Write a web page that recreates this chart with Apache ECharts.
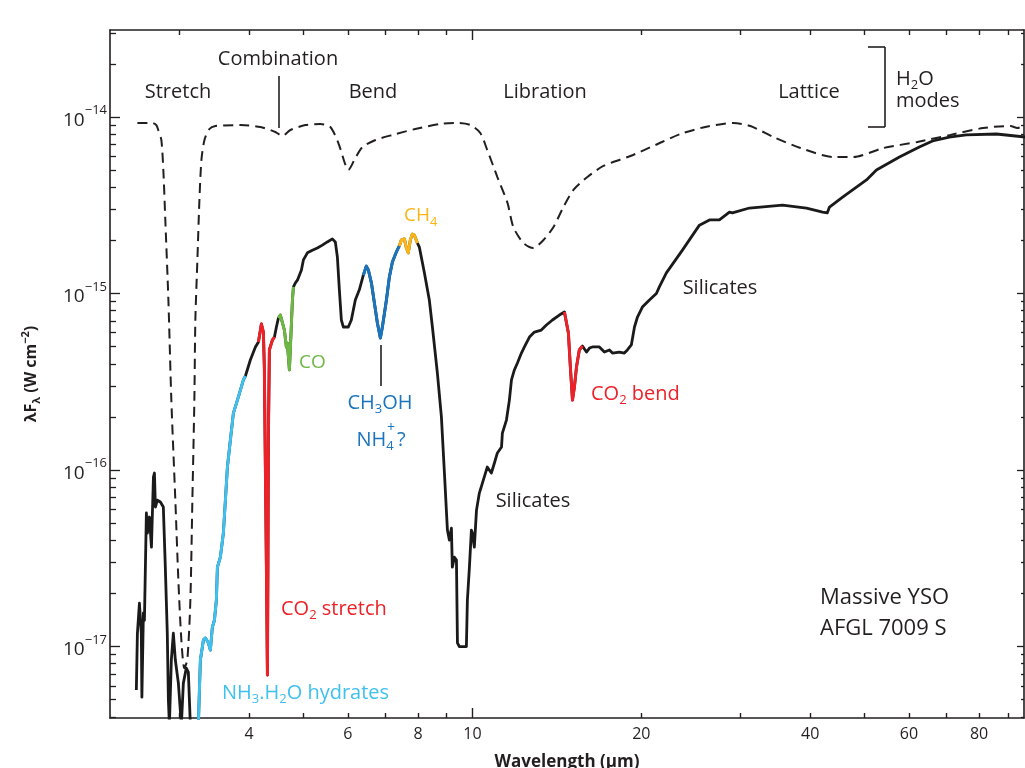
<!DOCTYPE html>
<html>
<head>
<meta charset="utf-8">
<title>Massive YSO AFGL 7009 S</title>
<script src="https://cdn.jsdelivr.net/npm/echarts@6/dist/echarts.min.js"></script>
<style>
  html, body { margin: 0; padding: 0; background: #fff; }
  #chart { width: 1025px; height: 768px; }
</style>
</head>
<body>
<div id="chart"></div>
<script>
  // H2O ice model (dashed), wavelength in um, lambda F_lambda in W cm-2
  let iceWave = [2.529, 2.689, 2.733, 2.756, 2.790, 2.813, 2.836, 2.872, 2.907, 2.955, 2.992, 3.029,
    3.066, 3.104, 3.143, 3.169, 3.195, 3.208, 3.235, 3.262, 3.289, 3.330, 3.398, 3.483, 3.859,
    4.19, 4.455, 4.585, 4.739, 5.04, 5.357, 5.582, 5.77, 5.94, 6.01, 6.185, 6.37, 6.72, 7.20,
    7.91, 8.77, 9.44, 9.92, 10.33, 10.63, 11.08, 11.55, 11.83, 12.33, 12.84, 13.39, 13.95,
    14.53, 15.14, 16.03, 17.12, 19.12, 21.20, 23.49, 26.02, 29.19, 31.30, 34.4, 38.43, 44.0,
    47.8, 54.0, 62.1, 71.1, 81.4, 91.0, 93.6, 96.8]
  let iceFlux = [9.25e-15, 9.25e-15, 9.0e-15, 8.4e-15, 7.41e-15, 5.01e-15, 2.61e-15, 9.19e-16,
    2.49e-16, 6.76e-17, 2.38e-17, 1.09e-17, 7.55e-18, 8.4e-18, 1.83e-17, 6.76e-17, 2.49e-16,
    7.08e-16, 1.55e-15, 3.39e-15, 5.71e-15, 7.41e-15, 8.55e-15, 8.89e-15, 9.0e-15, 8.78e-15,
    8.22e-15, 7.80e-15, 8.44e-15, 9.0e-15, 9.13e-15, 8.78e-15, 7.12e-15, 5.35e-15, 5.01e-15,
    5.86e-15, 6.76e-15, 7.41e-15, 7.91e-15, 8.55e-15, 9.13e-15, 9.25e-15, 9.0e-15, 8.12e-15,
    6.50e-15, 4.57e-15, 3.26e-15, 2.38e-15, 1.93e-15, 1.81e-15, 2.01e-15, 2.38e-15, 3.09e-15,
    3.86e-15, 4.57e-15, 5.28e-15, 6.01e-15, 6.94e-15, 8.01e-15, 8.78e-15, 9.25e-15, 8.89e-15,
    7.70e-15, 6.67e-15, 5.93e-15, 5.93e-15, 6.67e-15, 7.22e-15, 7.91e-15, 8.66e-15, 8.89e-15,
    8.66e-15, 9.0e-15]

  // observed spectrum of AFGL 7009 S
  let specWave = [2.518, 2.529, 2.550, 2.570, 2.576, 2.592, 2.603, 2.624, 2.635, 2.657, 2.679,
    2.701, 2.712, 2.723, 2.745, 2.779, 2.813, 2.836, 2.859, 2.872, 2.884, 2.907, 2.931, 2.955,
    2.992, 3.029, 3.054, 3.091, 3.117, 3.143,
    3.248, 3.262, 3.275, 3.316, 3.343, 3.384, 3.412, 3.44, 3.469, 3.497, 3.512, 3.555, 3.599,
    3.629, 3.659, 3.704, 3.75, 3.827, 3.907, 3.94,
    4.02, 4.105, 4.156, 4.207, 4.241, 4.258, 4.276, 4.294, 4.312, 4.321, 4.33, 4.347, 4.401,
    4.438, 4.474, 4.511, 4.548, 4.585, 4.623, 4.661, 4.68, 4.719, 4.739, 4.778, 4.798,
    4.837, 4.877, 4.917, 4.958, 4.998, 5.081, 5.186, 5.293, 5.403, 5.514, 5.629, 5.698, 5.746,
    5.793, 5.841, 5.889, 6.01, 6.085, 6.185, 6.288, 6.392,
    6.47, 6.525, 6.607, 6.689, 6.771, 6.855, 6.912, 7.027, 7.113, 7.202, 7.32, 7.41,
    7.471, 7.564, 7.627, 7.688, 7.752, 7.816, 7.882, 7.98,
    8.045, 8.212, 8.38, 8.487, 8.662, 8.806, 8.916, 9.026, 9.1, 9.175, 9.21, 9.29, 9.367,
    9.405, 9.48, 9.757, 9.797, 9.879, 9.96, 10.0, 10.08, 10.17, 10.29, 10.42, 10.63, 10.81,
    10.95, 11.08, 11.27, 11.31, 11.5, 11.64, 11.74, 11.88, 12.03, 12.23, 12.38, 12.64, 12.9,
    13.27, 13.55, 13.89, 14.29, 14.59,
    14.71, 14.83, 14.95, 15.08, 15.2, 15.33, 15.51, 15.71,
    15.97, 16.17, 16.37, 16.84, 17.19, 17.55, 17.77, 18.28, 18.66, 18.89, 19.2, 19.45, 19.69,
    20.09, 20.68, 21.28, 21.54, 22.17, 23.68, 25.39, 26.46, 27.56, 28.72, 29.07, 31.17, 35.7,
    39.4, 42.1, 42.9, 43.3, 45.7, 50.4, 52.5, 57.7, 62.6, 66.1, 70.8, 75.9, 85.9, 96.8]
  let specFlux = [5.67e-18, 1.19e-17, 1.76e-17, 1.19e-17, 5.17e-18, 1.55e-17, 1.41e-17, 5.71e-17,
    4.40e-17, 5.42e-17, 3.66e-17, 9.13e-17, 9.62e-17, 6.17e-17, 6.76e-17, 6.59e-17, 6.17e-17,
    2.82e-17, 1.19e-17, 4.97e-18, 3.6e-18, 8.39e-18, 1.19e-17, 8.39e-18, 6.21e-18, 3.6e-18,
    6.21e-18, 7.55e-18, 7.17e-18, 3.6e-18,
    3.6e-18, 5.67e-18, 8.39e-18, 1.09e-17, 1.12e-17, 1.05e-17, 9.55e-18, 1.29e-17, 1.41e-17,
    1.83e-17, 2.82e-17, 3.21e-17, 4.40e-17, 6.76e-17, 1.04e-16, 1.48e-16, 2.10e-16, 2.59e-16,
    3.24e-16, 3.41e-16,
    4.20e-16, 4.98e-16, 5.31e-16, 6.72e-16, 6.05e-16, 3.83e-16, 1.04e-16, 2.82e-17, 6.9e-18,
    2.82e-17, 1.62e-16, 4.79e-16, 5.45e-16, 5.67e-16, 6.46e-16, 7.26e-16, 7.55e-16, 7.36e-16,
    6.21e-16, 4.98e-16, 5.24e-16, 3.69e-16, 4.98e-16, 9.19e-16, 1.09e-15,
    1.15e-15, 1.19e-15, 1.18e-15, 1.36e-15, 1.55e-15, 1.70e-15, 1.76e-15, 1.81e-15, 1.88e-15,
    1.96e-15, 2.04e-15, 1.96e-15, 1.61e-15, 1.05e-15, 7.08e-16, 6.46e-16, 6.46e-16, 7.08e-16,
    9.19e-16, 1.05e-15, 1.27e-15,
    1.43e-15, 1.36e-15, 1.15e-15, 8.84e-16, 6.81e-16, 5.60e-16, 6.46e-16, 9.19e-16, 1.24e-15,
    1.51e-15, 1.72e-15, 1.86e-15,
    2.01e-15, 2.04e-15, 1.81e-15, 1.70e-15, 2.01e-15, 2.17e-15, 2.14e-15, 1.93e-15,
    1.83e-15, 1.31e-15, 9.19e-16, 6.46e-16, 3.54e-16, 2.0e-16, 9.62e-17, 4.57e-17, 4.01e-17,
    4.69e-17, 2.82e-17, 3.21e-17, 3.09e-17, 1.05e-17, 1.0e-17, 1.0e-17, 1.83e-17, 2.82e-17,
    4.57e-17, 4.40e-17, 3.66e-17, 5.93e-17, 7.41e-17, 8.44e-17, 1.04e-16, 9.62e-17, 1.10e-16,
    1.25e-16, 1.35e-16, 1.62e-16, 1.92e-16, 2.49e-16, 3.24e-16, 3.69e-16, 4.04e-16, 4.60e-16,
    4.98e-16, 5.67e-16, 6.05e-16, 6.21e-16, 6.63e-16, 7.08e-16, 7.55e-16, 7.86e-16,
    7.86e-16, 5.97e-16, 3.83e-16, 2.49e-16, 2.95e-16, 3.83e-16, 4.79e-16, 5.04e-16,
    4.66e-16, 4.91e-16, 4.98e-16, 4.98e-16, 4.66e-16, 4.79e-16, 4.60e-16, 4.66e-16, 4.60e-16,
    4.79e-16, 5.11e-16, 6.46e-16, 7.36e-16, 8.38e-16, 9.19e-16, 1.0e-15, 1.09e-15, 1.31e-15,
    1.76e-15, 2.44e-15, 2.61e-15, 2.61e-15, 2.89e-15, 2.86e-15, 3.05e-15, 3.17e-15, 3.05e-15,
    2.89e-15, 2.86e-15, 3.09e-15, 3.52e-15, 4.40e-15, 5.01e-15, 5.93e-15, 6.76e-15, 7.31e-15,
    7.70e-15, 7.91e-15, 8.01e-15, 7.70e-15]

  // absorption features drawn in colour (wavelength ranges, um)
  let bandNames = ['NH3.H2O', 'CO2 stretch', 'CO', 'CH3OH', 'CH4', 'CO2 bend']
  let bandFrom = [3.248, 4.156, 4.511, 6.392, 7.41, 14.59]
  let bandTo = [3.94, 4.438, 4.798, 7.41, 7.98, 15.71]

  // axis ticks
  let xTicks = [3, 4, 5, 6, 7, 8, 9, 20, 30, 40, 50, 60, 70, 80, 90]
  let xDecadeTicks = [10]
  let xLabels = [4, 6, 8, 10, 20, 40, 60, 80]
  let yDecades = [1e-17, 1e-16, 1e-15, 1e-14]
  let yMinor = [4e-18, 5e-18, 6e-18, 7e-18, 8e-18, 9e-18,
    2e-17, 3e-17, 4e-17, 5e-17, 6e-17, 7e-17, 8e-17, 9e-17,
    2e-16, 3e-16, 4e-16, 5e-16, 6e-16, 7e-16, 8e-16, 9e-16,
    2e-15, 3e-15, 4e-15, 5e-15, 6e-15, 7e-15, 8e-15, 9e-15,
    2e-14, 3e-14]

  const FONT = '"Open Sans", "Noto Sans", sans-serif'
  const INK = '#231f20'
  const bandColors = {
    'NH3.H2O': '#3fc0ee',
    'CO2 stretch': '#ee2128',
    'CO': '#6db843',
    'CH3OH': '#1b75bc',
    'CH4': '#fbb516',
    'CO2 bend': '#ee2128'
  }

  let pairs = (xs, ys) => xs.map((x, i) => [x, ys[i]])
  let spectrum = pairs(specWave, specFlux)

  function xAxisOf(position, ticks, len, withLine, withLabels) {
    return {
      type: 'log',
      position: position,
      min: 2.26,
      max: 96.2,
      axisLine: { show: withLine, onZero: false, lineStyle: { color: INK, width: 1.6 } },
      axisTick: { show: true, inside: true, length: len, customValues: ticks, lineStyle: { color: INK, width: 1.4 } },
      axisLabel: withLabels ? {
        show: true, customValues: xLabels, margin: 8,
        color: INK, fontFamily: FONT, fontSize: 16
      } : { show: false },
      splitLine: { show: false },
      minorTick: { show: false },
      name: withLabels ? 'Wavelength (μm)' : '',
      nameLocation: 'middle',
      nameGap: 36,
      nameTextStyle: { color: INK, fontFamily: FONT, fontSize: 17, fontWeight: 'bold' }
    }
  }

  function yAxisOf(position, ticks, len, withLine, withLabels) {
    return {
      type: 'log',
      position: position,
      min: 3.94e-18,
      max: 3.11e-14,
      axisLine: { show: withLine, onZero: false, lineStyle: { color: INK, width: 1.6 } },
      axisTick: { show: true, inside: true, length: len, customValues: ticks, lineStyle: { color: INK, width: 1.3 } },
      axisLabel: withLabels ? {
        show: true, customValues: yDecades, margin: 3,
        color: INK, fontFamily: FONT, fontSize: 19,
        formatter: v => '{b|10}{s|−' + Math.round(-Math.log10(v)) + '}',
        rich: {
          b: { color: INK, fontFamily: FONT, fontSize: 19, lineHeight: 26, verticalAlign: 'bottom' },
          s: { color: INK, fontFamily: FONT, fontSize: 13, lineHeight: 14, verticalAlign: 'top' }
        }
      } : { show: false },
      splitLine: { show: false },
      minorTick: { show: false },
      name: withLabels ? '{b|λF}{bs|λ}{b| (W cm}{bp|−2}{b|)}' : '',
      nameLocation: 'middle',
      nameRotate: 90,
      nameGap: 68,
      nameTextStyle: {
        color: INK, fontFamily: FONT, fontSize: 16, fontWeight: 'bold',
        rich: {
          b: { color: INK, fontFamily: FONT, fontSize: 16, fontWeight: 'bold', lineHeight: 22, verticalAlign: 'middle' },
          bs: { color: INK, fontFamily: FONT, fontSize: 11, fontWeight: 'bold', lineHeight: 22, verticalAlign: 'bottom', padding: [6, 0, 0, 0] },
          bp: { color: INK, fontFamily: FONT, fontSize: 11, fontWeight: 'bold', lineHeight: 22, verticalAlign: 'top', padding: [0, 0, 6, 0] }
        }
      }
    }
  }

  let annoRich = {
    sub: { fontFamily: FONT, fontSize: 13, lineHeight: 26, verticalAlign: 'bottom', padding: [8, 0, 0, 0] },
    sup: { fontFamily: FONT, fontSize: 13, lineHeight: 26, verticalAlign: 'top', padding: [0, 0, 8, 0] }
  }
  function label(text, x, y, color, size, align) {
    let rich = {}
    Object.keys(annoRich).forEach(k => {
      rich[k] = Object.assign({}, annoRich[k], { fill: color })
    })
    return {
      type: 'text', x: x, y: y, silent: true, z: 100,
      style: {
        text: text, fill: color, font: (size || 20) + 'px ' + FONT,
        align: align || 'center', verticalAlign: 'middle', rich: rich
      }
    }
  }
  function rule(x1, y1, x2, y2) {
    return {
      type: 'line', silent: true, z: 100,
      shape: { x1: x1, y1: y1, x2: x2, y2: y2 },
      style: { stroke: INK, lineWidth: 1.6 }
    }
  }

  let chart = echarts.init(document.getElementById('chart'))
  let option = {
    animation: false,
    backgroundColor: '#fff',
    grid: { left: 110, right: 1, top: 30, bottom: 50, containLabel: false, outerBoundsMode: 'none' },
    xAxis: [
      xAxisOf('bottom', xTicks, 5, true, true),
      xAxisOf('bottom', xDecadeTicks, 10, false, false),
      xAxisOf('top', xTicks, 5, true, false),
      xAxisOf('top', xDecadeTicks, 10, false, false)
    ],
    yAxis: [
      yAxisOf('left', yDecades, 10, true, true),
      yAxisOf('left', yMinor, 6, false, false),
      yAxisOf('right', yDecades, 7, true, false),
      yAxisOf('right', yMinor, 3, false, false)
    ],
    series: [
      {
        name: 'H2O ice',
        type: 'line',
        data: pairs(iceWave, iceFlux),
        showSymbol: false,
        smooth: 0.25,
        lineStyle: { color: INK, width: 2, type: [10, 6] },
        z: 2
      },
      {
        name: 'AFGL 7009 S',
        type: 'line',
        data: spectrum,
        showSymbol: false,
        lineStyle: { color: '#1a1a1a', width: 2.8, join: 'round' },
        z: 3
      }
    ].concat(bandNames.map((name, i) => ({
      name: name,
      type: 'line',
      data: spectrum.filter(p => p[0] >= bandFrom[i] && p[0] <= bandTo[i]),
      showSymbol: false,
      lineStyle: { color: bandColors[name], width: 3, join: 'round' },
      z: 4
    }))),
    graphic: [
      label('Combination', 278, 59, INK),
      rule(279, 76, 279, 128),
      label('Stretch', 178, 92, INK),
      label('Bend', 373, 92, INK),
      label('Libration', 545, 92, INK),
      label('Lattice', 809, 92, INK),
      rule(868, 47, 885, 47),
      rule(885, 47, 885, 127),
      rule(868, 127, 885, 127),
      label('H{sub|2}O', 896, 79, INK, 20, 'left'),
      label('modes', 896, 101, INK, 20, 'left'),
      label('CH{sub|4}', 404, 216, bandColors['CH4'], 19, 'left'),
      label('CO', 299, 363, bandColors['CO'], 19, 'left'),
      rule(381, 345, 381, 386),
      label('CH{sub|3}OH', 380, 403, bandColors['CH3OH']),
      label('NH{sub|4}\u2009?', 381, 440, bandColors['CH3OH']),
      label('+', 387, 428, bandColors['CH3OH'], 14, 'left'),
      label('Silicates', 720, 288, INK),
      label('Silicates', 533, 501, INK),
      label('CO{sub|2} bend', 591, 394, bandColors['CO2 bend'], 20, 'left'),
      label('CO{sub|2} stretch', 281, 609, bandColors['CO2 stretch'], 20, 'left'),
      label('NH{sub|3}.H{sub|2}O hydrates', 222, 693, bandColors['NH3.H2O'], 20, 'left'),
      label('Massive YSO', 820, 598, INK, 22, 'left'),
      label('AFGL 7009 S', 820, 629, INK, 22, 'left')
    ]
  }
  chart.setOption(option, true)
  window.onresize = chart.resize
</script>
</body>
</html>
